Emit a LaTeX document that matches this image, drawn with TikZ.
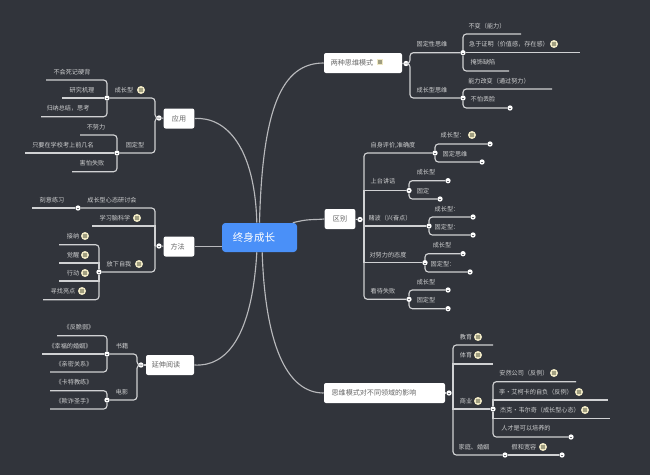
\documentclass[tikz,border=0pt]{standalone}
\usepackage{fontspec}
\setmainfont{Noto Sans CJK SC}
\definecolor{bgc}{HTML}{31343B}
\definecolor{rootc}{HTML}{4A90F8}
\definecolor{linec}{HTML}{D0D1D3}
\definecolor{txtc}{HTML}{CDCECF}
\definecolor{iconc}{HTML}{EFE8C4}
\definecolor{icond}{HTML}{A09E80}
\tikzset{
  rootn/.style={fill=rootc,text=white,rounded corners=2.5pt,font=\fontsize{7.9}{9}\selectfont,
    minimum width=56.25pt,minimum height=21.75pt,inner sep=0pt},
  boxn/.style={fill=white,text=black!60,rounded corners=1.5pt,font=\fontsize{5.3}{6}\selectfont,
    minimum height=15pt,inner sep=0pt},
  lbl/.style={text=txtc,font=\fontsize{4.6}{5.5}\selectfont,inner sep=0pt},
  jnc/.style={circle,fill=white,minimum size=4pt,inner sep=0pt,
    path picture={\draw[bgc!70!white,line width=.25pt] (path picture bounding box.center) +(-1.2,0) -- +(1.2,0);}},
  icn/.style={circle,fill=iconc,minimum size=6pt,inner sep=0pt,
    path picture={\fill[icond] (path picture bounding box.center) +(-2.4,-2.4) rectangle +(2.4,2.4);}},
  lnk/.style={draw=linec,line width=.85pt,rounded corners=2.5pt},
  crv/.style={draw=linec!85!bgc,line width=.85pt},
}
\begin{document}
\begin{tikzpicture}[x=0.75pt,y=-0.75pt]
\fill[bgc] (0,0) rectangle (650,475);
\useasboundingbox (0,0) rectangle (650,475);
% main boxes
\node[rootn] (root) at (259.5,237.5) {终身成长\hspace{8.25pt}\null};
\node[boxn,minimum width=58.5pt] (mA) at (363,63) {两种思维模式\hspace{16.5pt}\null};
\node[boxn,minimum width=23pt] (mB) at (340,219) {区别};
\node[boxn,minimum width=90.75pt] (mC) at (384.5,393) {思维模式对不同领域的影响\hspace{15.7pt}\null};
\node[boxn,minimum width=23pt] (mD) at (179,118.5) {应用};
\node[boxn,minimum width=23pt] (mE) at (179,246.5) {方法\hspace{2pt}\null};
\node[boxn,minimum width=36pt] (mF) at (170,365) {延伸阅读\hspace{6pt}\null};
\node[icn,rectangle,minimum size=0pt,minimum width=4.5pt,minimum height=4.5pt] (iA) at (380,62) {};
% junctions
\foreach \n/\x/\y in {jA/406/63.5,jA1/463/52.7,jA2/463/98,
  jB/360/219.5,jB1/435/153,jB2/409/190.5,jB3/429/226,jB4/425/262.7,jB5/409/299.3,
  jC/449/393,jC3/493/409,jC4/505/455,
  jD/159/118,jD1/107/98,jD2/117/153,
  jE/159/246,jE1/78/208,jE3/99/272,
  jF/141/365,jF1/107/354,jF2/107/400,
  eA/510/108,eB1/490/144,eB2/482/162,eB3/448/180.7,eB4/440/199,eB5/473/217,eB6/473/235,
  eB7/463/253.7,eB8/470/272,eB9/448/290,eB10/448/308.7,eC1/571/437,eC2/562/455}
  \node[jnc] (\n) at (\x,\y) {};
% free line ends
\foreach \n/\x/\y in {fA1/521/34,fA2/580/52.7,fA3/509/71,fA4/552/89,
  fC1/493/345,fC2/493/364,fC3/576/381.7,fC4/608/400,fC5/610/418.7,
  fD1/46/80,fD2/62/98,fD3/41/116.7,fD4/80/135,fD5/25/153,fD6/72/171.7,
  fE1/32/208,fE2/92/226,fE3/59/244.7,fE4/59/263,fE5/59/281,fE6/43/299.7,
  fF1/57/335.7,fF2/42/354,fF3/50/372,fF4/50/390.7,fF5/50/409,
  tB/364/219.5,tC/453/393,tE/155/246}
  \coordinate (\n) at (\x,\y);
% curves from the centre
\path[crv] (root.north) .. controls +(3,-115) and +(-42,0) .. (mA.west);
\path[crv] ([xshift=-2]root.north) .. controls +(-2,-75) and +(32,-2) .. (mD.east);
\path[crv] ([xshift=25]root.north) .. controls +(15,-4) and +(-12,1) .. (mB.west);
\path[crv] (root.west|-mE) -- (mE.east);
\path[crv] ([xshift=2]root.south) .. controls +(3,90) and +(-38,0) .. (mC.west);
\path[crv] ([xshift=-2]root.south) .. controls +(-5,85) and +(32,2) .. (mF.east);
% right side
\draw[lnk] (mA) -- (jA);
\draw[lnk] (jA) -- ++(4,0) |- (jA1);
\draw[lnk] (jA) -- ++(4,0) |- (jA2);
\draw[lnk] (jA1) |- (fA1);
\draw[lnk] (jA1) -- (fA2);
\draw[lnk] (jA1) |- (fA3);
\draw[lnk] (jA2) |- (fA4);
\draw[lnk] (jA2) |- (eA);
\draw[lnk] (mB) -- (jB) -- (tB);
\draw[lnk] (tB) |- (jB1);
\draw[lnk,sharp corners] (tB) |- (jB2);
\draw[lnk,sharp corners] (tB) |- (jB3);
\draw[lnk,sharp corners] (tB) |- (jB4);
\draw[lnk] (tB) |- (jB5);
\draw[lnk] (jB1) |- (eB1);
\draw[lnk] (jB1) |- (eB2);
\draw[lnk] (jB2) |- (eB3);
\draw[lnk] (jB2) |- (eB4);
\draw[lnk] (jB3) |- (eB5);
\draw[lnk] (jB3) |- (eB6);
\draw[lnk] (jB4) |- (eB7);
\draw[lnk] (jB4) |- (eB8);
\draw[lnk] (jB5) |- (eB9);
\draw[lnk] (jB5) |- (eB10);
\draw[lnk] (mC) -- (jC) -- (tC);
\draw[lnk] (tC) |- (fC1);
\draw[lnk,sharp corners] (tC) |- (fC2);
\draw[lnk,sharp corners] (tC) |- (jC3);
\draw[lnk] (tC) |- (jC4);
\draw[lnk] (jC4) -- (eC2);
\draw[lnk] (jC3) |- (fC3);
\draw[lnk,sharp corners] (jC3) |- (fC4);
\draw[lnk,sharp corners] (jC3) |- (fC5);
\draw[lnk] (jC3) |- (eC1);
% left side
\draw[lnk] (mD) -- (jD);
\draw[lnk] (jD) -- ++(-4,0) |- (jD1);
\draw[lnk] (jD) -- ++(-4,0) |- (jD2);
\draw[lnk] (jD1) |- (fD1);
\draw[lnk] (jD1) -- (fD2);
\draw[lnk] (jD1) |- (fD3);
\draw[lnk] (jD2) |- (fD4);
\draw[lnk] (jD2) -- (fD5);
\draw[lnk] (jD2) |- (fD6);
\draw[lnk] (mE) -- (jE) -- (tE);
\draw[lnk] (tE) |- (jE1);
\draw[lnk,sharp corners] (tE) |- (fE2);
\draw[lnk] (tE) |- (jE3);
\draw[lnk] (jE1) -- (fE1);
\draw[lnk] (jE3) |- (fE3);
\draw[lnk,sharp corners] (jE3) |- (fE4);
\draw[lnk,sharp corners] (jE3) |- (fE5);
\draw[lnk] (jE3) |- (fE6);
\draw[lnk] (mF) -- (jF);
\draw[lnk] (jF) -- ++(-4,0) |- (jF1);
\draw[lnk] (jF) -- ++(-4,0) |- (jF2);
\draw[lnk] (jF1) |- (fF1);
\draw[lnk] (jF1) -- (fF2);
\draw[lnk] (jF1) |- (fF3);
\draw[lnk] (jF2) |- (fF4);
\draw[lnk] (jF2) |- (fF5);
% labels
\foreach \n/\x/\y/\t in {
  a1/432/44/固定性思维,a2/432/90/成长型思维,a3/487/26/不变（能力）,
  a4/509/44/急于证明（价值感，存在感）,a5/483/62/掩饰缺陷,
  a6/499/81/能力改变（通过努力）,a7/483/99/不怕丢脸,
  b1/393/145/{自身评价,准确度},b2/453/135/成长型：,b3/455/154/固定思维,
  b4/383/181/上台讲话,b5/426/172/成长型,b6/423/191/固定,
  b7/390/218/赌波（兴奋点）,b8/447/209/成长型：,b9/447/227/固定型：,
  b10/388/255/对努力的态度,b11/442/245/成长型,b12/443/264/固定型：,
  b13/383/291/看待失败,b14/426/282/成长型,b15/426/300/固定型,
  c1/466/337/教育,c2/466/355/体育,c3/466/401/商业,c4/474/447/家庭、婚姻,c5/524/447/假和宽容,
  c6/524/373/安然公司（反例）,c7/536/392/李・艾柯卡的自负（反例）,
  c8/540/410/杰克・韦尔奇（成长型心态）,c9/526/428/人才是可以培养的,
  d1/124/90/成长型,d2/135/145/固定型,d3/72/72/不会死记硬背,d4/82/90/研究机理,
  d5/68/108/归纳总结，思考,d6/96/127/不努力,d7/63/145/只要在学校考上前几名,d8/92/163/害怕失败,
  e1/112/200/成长型心态研讨会,e2/52/200/刻意练习,e3/115/218/学习脑科学,e4/119/264/放下自我,
  e5/73/236/接纳,e6/73/255/觉醒,e7/73/273/行动,e8/63/291/寻找亮点,
  f1/122/346/书籍,f2/122/392/电影,f3/79/327/《反脆弱》,f4/70/346/《幸福的婚姻》,
  f5/74/364/《亲密关系》,f6/74/382/《卡特教练》,f7/74/401/《欺诈圣手》}
  \node[lbl] (\n) at (\x,\y) {\t};
% icons
\foreach \n/\x/\y in {i1/554/44,i2/472/135,i3/478/337,i4/478/355,i5/478/401,i6/543/447,
  i7/554/373,i8/579/392,i9/585/410,i10/141/90,i11/137/218,i12/139/264,
  i13/85/236,i14/85/255,i15/85/273,i16/82/291}
  \node[icn] (\n) at (\x,\y) {};
\end{tikzpicture}
\end{document}
